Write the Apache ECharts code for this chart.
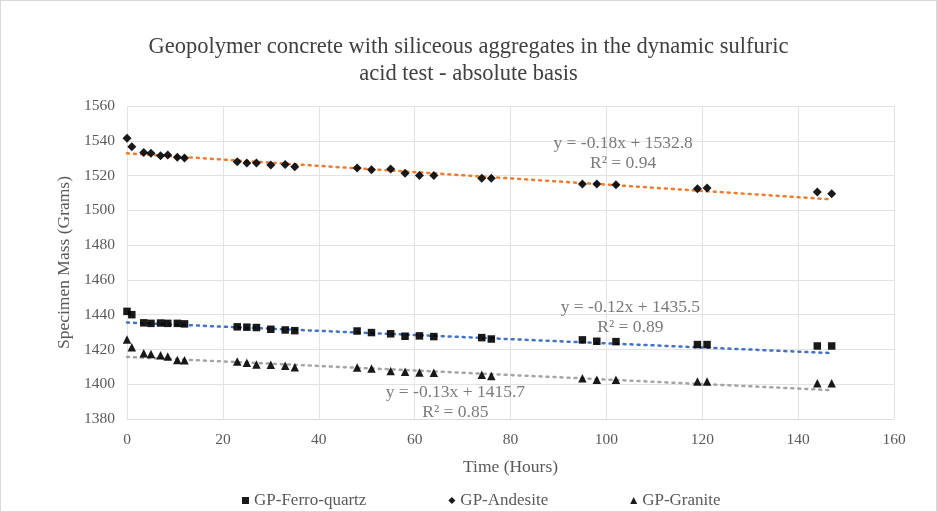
<!DOCTYPE html>
<html>
<head>
<meta charset="utf-8">
<script src="https://cdn.jsdelivr.net/npm/echarts@6/dist/echarts.min.js"></script>
<style>
html,body{margin:0;padding:0;background:#fff;}
#c{width:937px;height:512px;box-sizing:border-box;border:1px solid #d9d9d9;}
</style>
</head>
<body>
<div id="c"></div>
<script>
const hours = [0, 1, 3.5, 5, 7, 8.5, 10.5, 12, 23, 25, 27, 30, 33, 35, 48, 51, 55, 58, 61, 64, 74, 76, 95, 98, 102, 119, 121, 144, 147];
const ferroQuartz = [1441.9, 1440.0, 1435.3, 1435.0, 1435.2, 1435.0, 1435.0, 1434.7, 1433.0, 1432.8, 1432.6, 1431.6, 1431.2, 1430.8, 1430.6, 1429.7, 1429.0, 1427.6, 1427.8, 1427.4, 1426.8, 1426.0, 1425.5, 1424.7, 1424.5, 1422.8, 1422.8, 1422.0, 1422.0];
const andesite = [1541.5, 1536.6, 1533.3, 1532.8, 1531.4, 1531.8, 1530.5, 1530.1, 1528.0, 1527.2, 1527.2, 1526.1, 1526.3, 1525.1, 1524.4, 1523.3, 1523.8, 1521.3, 1520.0, 1520.0, 1518.5, 1518.5, 1515.2, 1515.2, 1514.7, 1512.4, 1512.8, 1510.5, 1509.5];
const granite = [1425.7, 1421.3, 1417.8, 1417.4, 1416.6, 1416.0, 1414.0, 1413.8, 1413.0, 1412.4, 1411.4, 1411.2, 1410.6, 1409.8, 1409.6, 1409.0, 1407.6, 1407.2, 1406.8, 1406.6, 1405.4, 1404.8, 1403.4, 1402.6, 1402.6, 1401.6, 1401.6, 1400.6, 1400.6];
const trendX = [0, 147];
const ferroTrendY = [1435.5, 1417.9];
const andesiteTrendY = [1532.8, 1506.3];
const graniteTrendY = [1415.7, 1396.6];
const xTicks = [0, 20, 40, 60, 80, 100, 120, 140, 160];
const yTicks = [1380, 1400, 1420, 1440, 1460, 1480, 1500, 1520, 1540, 1560];
const seriesNames = ['GP-Ferro-quartz', 'GP-Andesite', 'GP-Granite'];
const eqTexts = ['y = -0.12x + 1435.5\nR² = 0.89', 'y = -0.18x + 1532.8\nR² = 0.94', 'y = -0.13x + 1415.7\nR² = 0.85'];

const pair = (xs, ys) => xs.map((x, i) => [x, ys[i]]);
const font = 'Liberation Serif';
const txt = '#595959';

const chart = echarts.init(document.getElementById('c'));
const trend = (ys, color) => ({
  type: 'line', data: pair(trendX, ys), symbol: 'none', silent: true,
  lineStyle: { color: color, width: 2.5, type: [2, 5], cap: 'round' }, z: 1
});
const eq = (pt, text) => ({
  type: 'scatter', data: [pt], symbolSize: 0, silent: true, z: 5,
  label: { show: true, position: 'inside', formatter: text, fontFamily: font, fontSize: 17.5, color: txt, lineHeight: 20, align: 'center' }
});
const sc = (name, ys, sym, size) => ({
  name: name, type: 'scatter', data: pair(hours, ys), symbol: sym, symbolSize: size,
  itemStyle: { color: '#000000', opacity: 0.9 }, z: 3
});
chart.setOption({
  animation: false,
  backgroundColor: '#fff',
  title: {
    text: 'Geopolymer concrete with siliceous aggregates in the dynamic sulfuric\nacid test - absolute basis',
    left: 'center', top: 28,
    textStyle: { fontFamily: font, fontSize: 22.5, fontWeight: 'normal', color: '#404040', lineHeight: 27, align: 'center' }
  },
  legend: {
    bottom: -3, left: 236, itemGap: 82, itemWidth: 7, itemHeight: 7,
    data: seriesNames.map((n, i) => ({ name: n, icon: ['rect', 'diamond', 'triangle'][i] })),
    textStyle: { fontFamily: font, fontSize: 17, color: txt },
    itemStyle: { color: '#000' }
  },
  grid: { left: 126, right: 42, top: 105, bottom: 92 },
  xAxis: {
    type: 'value', min: xTicks[0], max: xTicks[xTicks.length - 1], interval: 20,
    name: 'Time (Hours)', nameLocation: 'middle', nameGap: 39,
    nameTextStyle: { fontFamily: font, fontSize: 17.5, color: txt },
    axisLine: { show: true, lineStyle: { color: '#d9d9d9' } }, axisTick: { show: false },
    axisLabel: { fontFamily: font, fontSize: 15.5, color: txt, margin: 13 },
    splitLine: { show: true, lineStyle: { color: '#e3e3e3' } }
  },
  yAxis: {
    type: 'value', min: yTicks[0], max: yTicks[yTicks.length - 1], interval: 20,
    name: 'Specimen Mass (Grams)', nameLocation: 'middle', nameGap: 46,
    nameTextStyle: { fontFamily: font, fontSize: 17.5, color: txt },
    axisLine: { show: false }, axisTick: { show: false },
    axisLabel: { fontFamily: font, fontSize: 15.5, color: txt, margin: 12, formatter: v => String(v) },
    splitLine: { show: true, lineStyle: { color: '#e3e3e3' } }
  },
  series: [
    sc(seriesNames[0], ferroQuartz, 'rect', 7.5),
    sc(seriesNames[1], andesite, 'diamond', 9),
    sc(seriesNames[2], granite, 'triangle', 8.5),
    trend(ferroTrendY, '#4472C4'),
    trend(andesiteTrendY, '#ED7D31'),
    trend(graniteTrendY, '#A5A5A5'),
    eq([105, 1438.5], eqTexts[0]),
    eq([103.5, 1532.5], eqTexts[1]),
    eq([68.5, 1389.5], eqTexts[2])
  ]
});
</script>
</body>
</html>
